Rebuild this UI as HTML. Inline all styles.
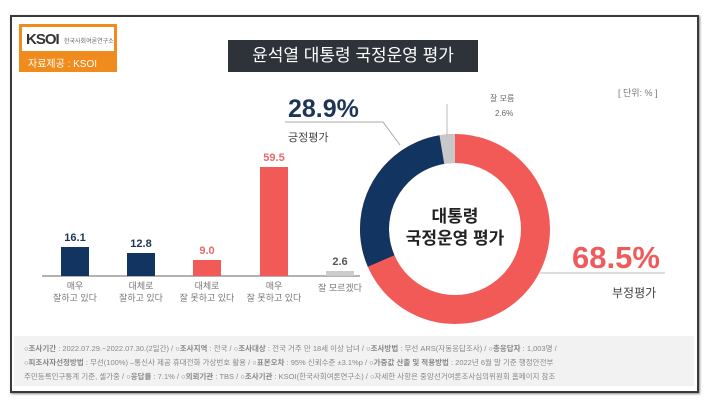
<!DOCTYPE html>
<html><head><meta charset="utf-8"><style>
body{margin:0;width:710px;height:402px;background:#fff;overflow:hidden;font-family:"Liberation Sans","Noto Sans CJK KR",sans-serif;}
.a{position:absolute;white-space:nowrap}
</style></head><body>
<div class="a" style="left:10px;top:15px;width:685px;height:374px;border:2px solid #3a3a3a;box-shadow:1px 1px 2px #888"></div>
<div class="a" style="left:19px;top:24px;width:98px;height:48px;background:#f08c1e"></div>
<div class="a" style="left:22px;top:27px;width:92px;height:24px;background:#fff"></div>
<div class="a" style="left:26px;top:31px;font-size:15px;font-weight:bold;color:#333;letter-spacing:-1px">KSOI</div>
<div class="a" style="left:64px;top:36px;font-size:6px;color:#666">한국사회여론연구소</div>
<div class="a" style="left:28px;top:55px;font-size:10px;color:#fff">자료제공 : KSOI</div>
<div class="a" style="left:228px;top:40px;width:250px;height:32px;background:#2d3339;color:#fff;font-size:17px;line-height:32px;text-align:center">윤석열 대통령 국정운영 평가</div>
<div class="a" style="left:618px;top:86px;font-size:9px;color:#777">[ 단위: % ]</div>
<svg class="a" style="left:0;top:0" width="710" height="402">
<line x1="42" y1="276" x2="360" y2="276" stroke="#999" stroke-width="1.5"/>
<rect x="61" y="247" width="28" height="29" fill="#123461"/>
<rect x="127" y="253" width="28" height="23" fill="#123461"/>
<rect x="193" y="260" width="28" height="16" fill="#f25a57"/>
<rect x="260" y="167" width="28" height="109" fill="#f25a57"/>
<rect x="326" y="271" width="28" height="5" fill="#ccc"/>
<g font-size="11" font-weight="bold" text-anchor="middle">
<text x="75" y="241" fill="#1d3557">16.1</text>
<text x="141" y="247" fill="#1d3557">12.8</text>
<text x="207" y="254" fill="#e86a6a">9.0</text>
<text x="274" y="161" fill="#e86a6a">59.5</text>
<text x="340" y="265" fill="#555">2.6</text>
</g>
<g font-size="9" fill="#777" text-anchor="middle">
<text x="75" y="289">매우</text><text x="75" y="301">잘하고 있다</text>
<text x="141" y="289">대체로</text><text x="141" y="301">잘하고 있다</text>
<text x="207" y="289">대체로</text><text x="207" y="301">잘 못하고 있다</text>
<text x="274" y="289">매우</text><text x="274" y="301">잘 못하고 있다</text>
<text x="340" y="291">잘 모르겠다</text>
</g>
<g transform="translate(455,229)" fill="none" stroke-width="29">
<circle r="80.5" stroke="#f25a57"/>
<circle r="80.5" stroke="#123461" stroke-dasharray="146.2 1000" transform="rotate(156.6)"/>
<circle r="80.5" stroke="#c8c8c8" stroke-dasharray="13.2 1000" transform="rotate(260.6)"/>
</g>
<polyline points="285,122 383,122 400,145" fill="none" stroke="#aaa" stroke-width="1"/>
<polyline points="447,137 447,104" fill="none" stroke="#bbb" stroke-width="1"/>
<line x1="540" y1="273" x2="665" y2="273" stroke="#bbb" stroke-width="1"/>
<text x="288" y="117" font-size="25" font-weight="bold" fill="#1d3557">28.9%</text>
<text x="288" y="141" font-size="11" fill="#444">긍정평가</text>
<text x="490" y="101" font-size="8" fill="#666">잘 모름</text>
<text x="495" y="116" font-size="8" fill="#666">2.6%</text>
<text x="572" y="268" font-size="31" font-weight="bold" fill="#ef5b5b">68.5%</text>
<text x="612" y="297" font-size="12" fill="#444">부정평가</text>
<text x="455" y="222" font-size="17" font-weight="bold" fill="#222" text-anchor="middle">대통령</text>
<text x="455" y="244" font-size="17" font-weight="bold" fill="#222" text-anchor="middle">국정운영 평가</text>
</svg>
<div class="a" style="left:14px;top:336px;width:680px;height:50px;background:#f2f2f2"></div>
<div class="a" style="left:24px;top:342px;font-size:7.5px;line-height:14px;color:#888">
<b>○조사기간</b> : 2022.07.29.~2022.07.30.(2일간) / ○<b>조사지역</b> : 전국 / ○<b>조사대상</b> : 전국 거주 만 18세 이상 남녀 / ○<b>조사방법</b> : 무선 ARS(자동응답조사) / ○<b>총응답자</b> : 1,003명 /<br>
○<b>피조사자선정방법</b> : 무선(100%) –통신사 제공 휴대전화 가상번호 활용 / ○<b>표본오차</b> : 95% 신뢰수준 ±3.1%p / ○<b>가중값 산출 및 적용방법</b> : 2022년 6월 말 기준 행정안전부<br>
주민등록인구통계 기준, 셀가중 / ○<b>응답률</b> : 7.1% / ○<b>의뢰기관</b> : TBS / ○<b>조사기관</b> : KSOI(한국사회여론연구소) / ○자세한 사항은 중앙선거여론조사심의위원회 홈페이지 참조</div>
</body></html>
